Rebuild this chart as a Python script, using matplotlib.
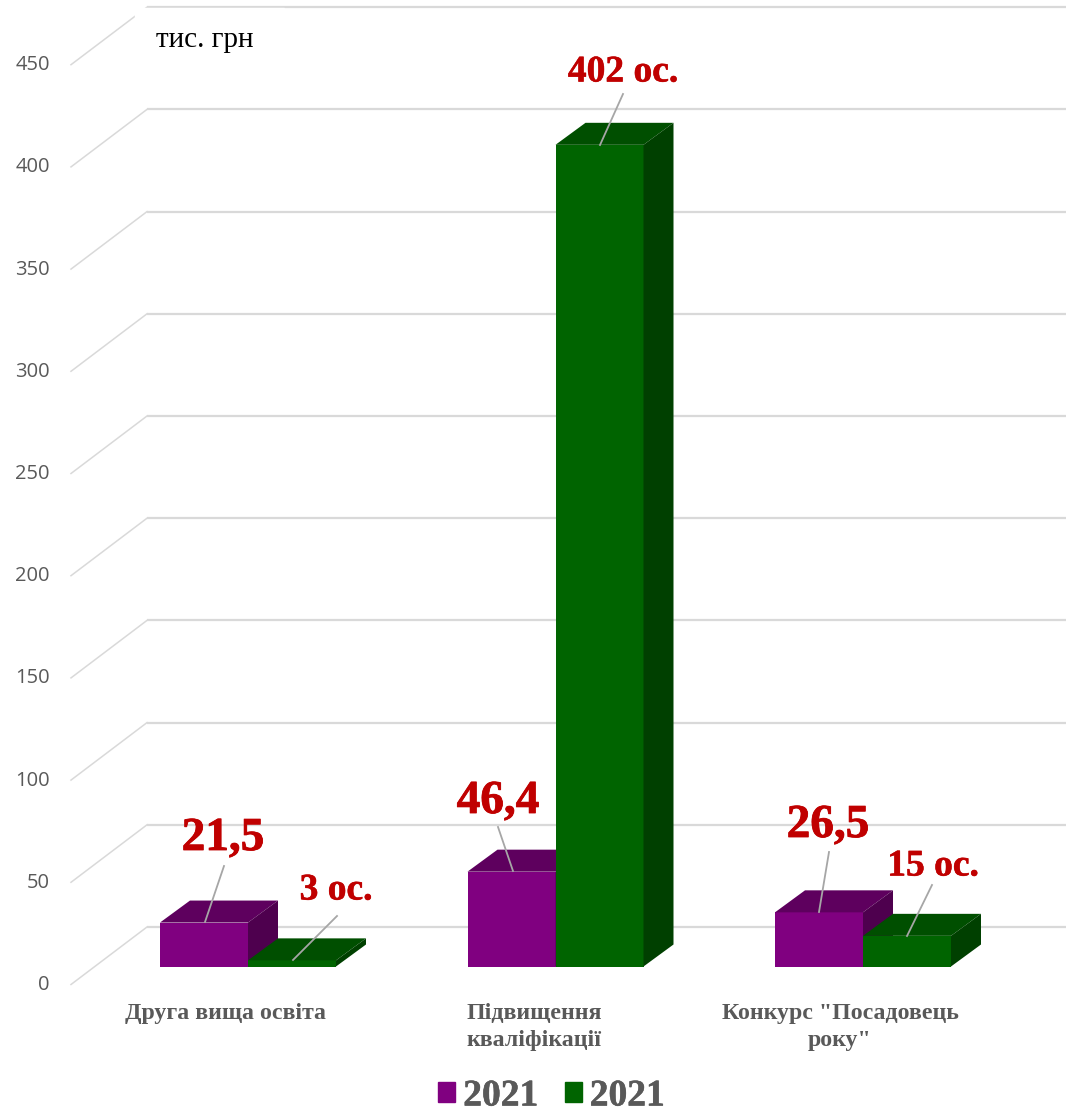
import matplotlib
matplotlib.use('Agg')
import matplotlib.pyplot as plt
import matplotlib.patheffects as pe
from matplotlib.patches import Polygon, Patch, Rectangle

W, H = 1066, 1110

categories = ['Друга вища освіта', 'Підвищення\nкваліфікації', 'Конкурс "Посадовець\nроку"']
series_a = [21.5, 46.4, 26.5]
series_b = [3, 402, 15]
labels_a = ['21,5', '46,4', '26,5']
labels_b = ['3 ос.', '402 ос.', '15 ос.']
legend_names = ['2021', '2021']
ticks = [0, 50, 100, 150, 200, 250, 300, 350, 400, 450]

# pixel scales
X0, X_STEP = 248, 307.5
Y0, Y_STEP = 966.5, 2.044
BAR_W = 88 / X_STEP
DX = 30 / X_STEP
DY = 22 / Y_STEP

def px(x):
    return (x - X0) / X_STEP

def py(y):
    return (Y0 - y) / Y_STEP

serif = ['Liberation Serif', 'DejaVu Serif']
red = '#C00000'
grey = '#595959'

def heavy(width, color):
    return [pe.Stroke(linewidth=width, foreground=color), pe.Normal()]

fig = plt.figure(figsize=(W / 100, H / 100), dpi=100)
ax = fig.add_axes([0, 0, 1, 1])
ax.set_xlim(px(0), px(W))
ax.set_ylim(py(H), py(0))
ax.axis('off')

# walls
for t in ticks:
    yb = 927 - t * Y_STEP
    ax.plot([px(147), px(W)], [py(yb), py(yb)], color='#D9D9D9', lw=1.6, zorder=1, solid_capstyle='butt')
    ax.plot([px(71), px(147)], [py(yb + 57.5), py(yb)], color='#D9D9D9', lw=1.1, zorder=1)
    ax.text(px(50), py(985 - t * Y_STEP), str(t), ha='right', va='center', fontsize=14.5,
            family='Open Sans', color=grey, zorder=5)

# white box under the unit label
ax.add_patch(Rectangle((px(135), py(56)), px(284) - px(135), py(7.5) - py(56), color='white', zorder=2))
ax.text(px(156), py(40), 'тис. грн', ha='left', va='center', fontsize=21, family=serif, color='black', zorder=5)


def bar3d(left, val, front, top, side, z):
    ax.bar(left, val, BAR_W, align='edge', color=front, zorder=z)
    r = left + BAR_W
    ax.add_patch(Polygon([(left, val), (r, val), (r + DX, val + DY), (left + DX, val + DY)], color=top, lw=0, zorder=z))
    ax.add_patch(Polygon([(r, 0), (r + DX, DY), (r + DX, val + DY), (r, val)], color=side, lw=0, zorder=z))


for i in range(len(categories)):
    bar3d(i - BAR_W, series_a[i], '#800080', '#5E005E', '#4E004E', 3 + i * 0.1)
    bar3d(i, series_b[i], '#006400', '#004F00', '#004000', 3.05 + i * 0.1)

# data labels, leader lines
label_pos_a = [(223, 839), (498, 802), (828, 826)]
label_pos_b = [(336, 890), (623, 72), (933, 866)]
lead_a = [((224, 866), (205, 922)), ((498, 827), (513, 871)), ((829, 852), (819, 912))]
lead_b = [((337, 916), (293, 960)), ((623, 94), (600, 145)), ((932, 885), (907, 936))]

for i in range(len(categories)):
    ax.text(px(label_pos_a[i][0]), py(label_pos_a[i][1]), labels_a[i], ha='center', va='center',
            fontsize=34, fontweight='bold', family=serif, color=red, zorder=6,
            path_effects=heavy(0.6, red))
    ax.text(px(label_pos_b[i][0]), py(label_pos_b[i][1]), labels_b[i], ha='center', va='center',
            fontsize=27, fontweight='bold', family=serif, color=red, zorder=6,
            path_effects=heavy(0.4, red))
    for a, b in (lead_a[i], lead_b[i]):
        ax.plot([px(a[0]), px(b[0])], [py(a[1]), py(b[1])], color='#A6A6A6', lw=1.3, zorder=6)

# category labels
cat_x = [226, 534, 840]
for i, c in enumerate(categories):
    ax.text(px(cat_x[i]), py(1003), c, ha='center', va='top', fontsize=17.2, fontweight='bold',
            family=serif, color=grey, linespacing=1.4, zorder=5)

handles = [Patch(color='#800080'), Patch(color='#006400')]
leg = ax.legend(handles, legend_names, loc='center', bbox_to_anchor=(551.5 / W, 1 - 1096 / H), ncol=2, frameon=False,
                handlelength=0.45, handleheight=0.45, handletextpad=0.22, columnspacing=0.7,
                prop={'family': serif, 'weight': 'bold', 'size': 27}, labelcolor=grey)
for t in leg.get_texts():
    t.set_path_effects(heavy(0.4, grey))

fig.savefig('out.png', dpi=100)
